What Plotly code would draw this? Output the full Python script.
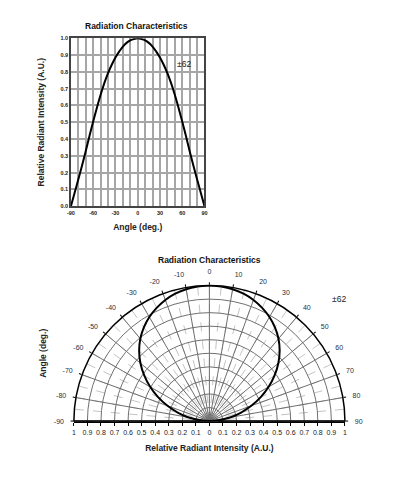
import plotly.graph_objects as go

# ---------------- data ----------------
angle_deg = [-90, -85, -80, -75, -70, -65, -60, -55, -50, -45, -40, -35, -30, -25, -20, -15, -10, -5, 0,
             5, 10, 15, 20, 25, 30, 35, 40, 45, 50, 55, 60, 65, 70, 75, 80, 85, 90]
intensity = [0.0, 0.08, 0.16, 0.242, 0.329, 0.418, 0.505, 0.587, 0.664, 0.733, 0.793, 0.843, 0.886,
             0.921, 0.951, 0.973, 0.988, 0.996, 1.0,
             0.996, 0.988, 0.973, 0.951, 0.921, 0.886, 0.843, 0.793, 0.733, 0.664, 0.587, 0.505,
             0.418, 0.329, 0.242, 0.16, 0.08, 0.0]

half_angle_label = "±62"

top_x_tickvals = [-90, -80, -70, -60, -50, -40, -30, -20, -10, 0, 10, 20, 30, 40, 50, 60, 70, 80, 90]
top_x_ticktext = ["-90", "", "", "-60", "", "", "-30", "", "", "0", "", "", "30", "", "", "60", "", "", "90"]

# angular grid every 5 degrees, labels every 10 degrees
polar_minor_vals = [-90, -85, -80, -75, -70, -65, -60, -55, -50, -45, -40, -35, -30, -25, -20, -15,
                    -10, -5, 0, 5, 10, 15, 20, 25, 30, 35, 40, 45, 50, 55, 60, 65, 70, 75, 80, 85, 90]
polar_minor_text = ["-90", "", "-80", "", "-70", "", "-60", "", "-50", "", "-40", "", "-30", "",
                    "-20", "", "-10", "", "0", "", "10", "", "20", "", "30", "", "40", "", "50", "",
                    "60", "", "70", "", "80", "", "90"]
polar_major_vals = [-90, -80, -70, -60, -50, -40, -30, -20, -10, 0, 10, 20, 30, 40, 50, 60, 70, 80, 90]

radial_tickvals = [-1, -0.9, -0.8, -0.7, -0.6, -0.5, -0.4, -0.3, -0.2, -0.1, 0,
                   0.1, 0.2, 0.3, 0.4, 0.5, 0.6, 0.7, 0.8, 0.9, 1]
radial_ticktext = ["1", "0.9", "0.8", "0.7", "0.6", "0.5", "0.4", "0.3", "0.2", "0.1", "0",
                   "0.1", "0.2", "0.3", "0.4", "0.5", "0.6", "0.7", "0.8", "0.9", "1"]

# ---------------- layout helpers ----------------
OFF = 8                      # default page body margin
W, H = 399 - OFF, 479 - OFF
FONT = "Liberation Sans, Arial, sans-serif"
TXT = "#222"


def px_x(p):
    return (p - OFF) / W


def px_y(p):
    return (H - (p - OFF)) / H


fig = go.Figure()

# top cartesian chart
fig.add_trace(go.Scatter(
    x=angle_deg, y=intensity, mode="lines",
    line=dict(color="black", width=2, shape="spline", smoothing=1),
    xaxis="x", yaxis="y", showlegend=False, hoverinfo="skip"))

# invisible anchor trace so the bottom cartesian axis is drawn
fig.add_trace(go.Scatter(
    x=[0], y=[0], mode="markers", marker=dict(opacity=0),
    xaxis="x2", yaxis="y2", showlegend=False, hoverinfo="skip"))

# polar: minor (dashed) grid subplot, carries the angle labels
fig.add_trace(go.Scatterpolar(
    r=[0], theta=[0], mode="markers", marker=dict(opacity=0),
    subplot="polar", showlegend=False, hoverinfo="skip"))

# polar: main subplot with the curve
fig.add_trace(go.Scatterpolar(
    r=intensity, theta=angle_deg, mode="lines",
    line=dict(color="black", width=2, shape="spline", smoothing=1),
    subplot="polar2", showlegend=False, hoverinfo="skip"))

polar_dom_x = [px_x(71), px_x(347)]
polar_dom_y = [px_y(423.7), px_y(285.7)]

fig.update_layout(
    width=W, height=H, autosize=False,
    margin=dict(l=0, r=0, t=0, b=0),
    paper_bgcolor="white", plot_bgcolor="rgba(0,0,0,0)",
    font=dict(family=FONT, color=TXT),
    xaxis=dict(
        domain=[px_x(68), px_x(204)], anchor="y",
        range=[-90, 90], tickvals=top_x_tickvals, ticktext=top_x_ticktext,
        showgrid=True, gridcolor="#a6a6a6", gridwidth=1.5,
        showline=True, linecolor="#444", linewidth=1.5, mirror=True,
        zeroline=False, ticks="",
        tickfont=dict(size=5.5, family=FONT, color=TXT, weight="bold"),
        title=dict(text="<b>Angle (deg.)</b>", font=dict(size=8.5, family=FONT, color=TXT),
                   standoff=10),
    ),
    yaxis=dict(
        domain=[px_y(205.7), px_y(35.7)], anchor="x",
        range=[0, 1], dtick=0.1, tickformat=".1f",
        showgrid=True, gridcolor="#a6a6a6", gridwidth=1.5,
        showline=True, linecolor="#444", linewidth=1.5, mirror=True,
        zeroline=False, ticks="",
        tickfont=dict(size=5.5, family=FONT, color=TXT, weight="bold"),
        title=dict(text="<b>Relative Radiant Intensity (A.U.)</b>",
                   font=dict(size=8.5, family=FONT, color=TXT), standoff=14),
    ),
    xaxis2=dict(
        domain=polar_dom_x, anchor="y2",
        range=[-1, 1], tickvals=radial_tickvals, ticktext=radial_ticktext,
        showgrid=False, zeroline=False,
        showline=True, linecolor="black", linewidth=1.5,
        ticks="outside", ticklen=3, tickcolor="black", tickwidth=1,
        tickfont=dict(size=7, family=FONT, color=TXT),
        title=dict(text="<b>Relative Radiant Intensity (A.U.)</b>",
                   font=dict(size=8.5, family=FONT, color=TXT), standoff=10),
    ),
    yaxis2=dict(
        domain=polar_dom_y, anchor="x2", range=[0, 1],
        showgrid=False, zeroline=False, showline=False, showticklabels=False, ticks="",
        title=dict(text="<b>Angle (deg.)</b>", font=dict(size=8.5, family=FONT, color=TXT),
                   standoff=24),
    ),
    polar=dict(
        domain=dict(x=polar_dom_x, y=polar_dom_y),
        sector=[0, 180], bgcolor="rgba(0,0,0,0)",
        angularaxis=dict(rotation=90, direction="clockwise",
                         tickmode="array", tickvals=polar_minor_vals, ticktext=polar_minor_text,
                         showgrid=True, gridcolor="#c4c4c4", gridwidth=0.8, griddash="dash",
                         showline=False, ticks="outside", ticklen=8,
                         tickcolor="rgba(0,0,0,0)",
                         tickfont=dict(size=7, family=FONT, color="#263040")),
        radialaxis=dict(range=[0, 1], showgrid=False, showticklabels=False,
                        showline=False, ticks=""),
    ),
    polar2=dict(
        domain=dict(x=polar_dom_x, y=polar_dom_y),
        sector=[0, 180], bgcolor="rgba(0,0,0,0)",
        angularaxis=dict(rotation=90, direction="clockwise",
                         tickmode="array", tickvals=polar_major_vals, showticklabels=False,
                         showgrid=True, gridcolor="#707070", gridwidth=1,
                         showline=True, linecolor="black", linewidth=1.5,
                         ticks="outside", ticklen=2.5, tickcolor="black", tickwidth=1),
        radialaxis=dict(range=[0, 1], dtick=0.1, showgrid=True, gridcolor="#707070",
                        gridwidth=1, showticklabels=False, showline=False, ticks=""),
    ),
    annotations=[
        dict(text="<b>Radiation Characteristics</b>", x=px_x(135), y=px_y(23),
             xref="paper", yref="paper", showarrow=False, xanchor="center", yanchor="middle",
             font=dict(size=8.5, family=FONT, color="#111")),
        dict(text=half_angle_label, x=px_x(183.5), y=px_y(61.5),
             xref="paper", yref="paper", showarrow=False, xanchor="center", yanchor="middle",
             font=dict(size=8.5, family=FONT, color=TXT)),
        dict(text="<b>Radiation Characteristics</b>", x=px_x(209), y=px_y(260.7),
             xref="paper", yref="paper", showarrow=False, xanchor="center", yanchor="middle",
             font=dict(size=8.5, family=FONT, color="#111")),
        dict(text=half_angle_label, x=px_x(341), y=px_y(300),
             xref="paper", yref="paper", showarrow=False, xanchor="center", yanchor="middle",
             font=dict(size=8.5, family=FONT, color=TXT)),
    ],
)

fig.write_html("out.html")
